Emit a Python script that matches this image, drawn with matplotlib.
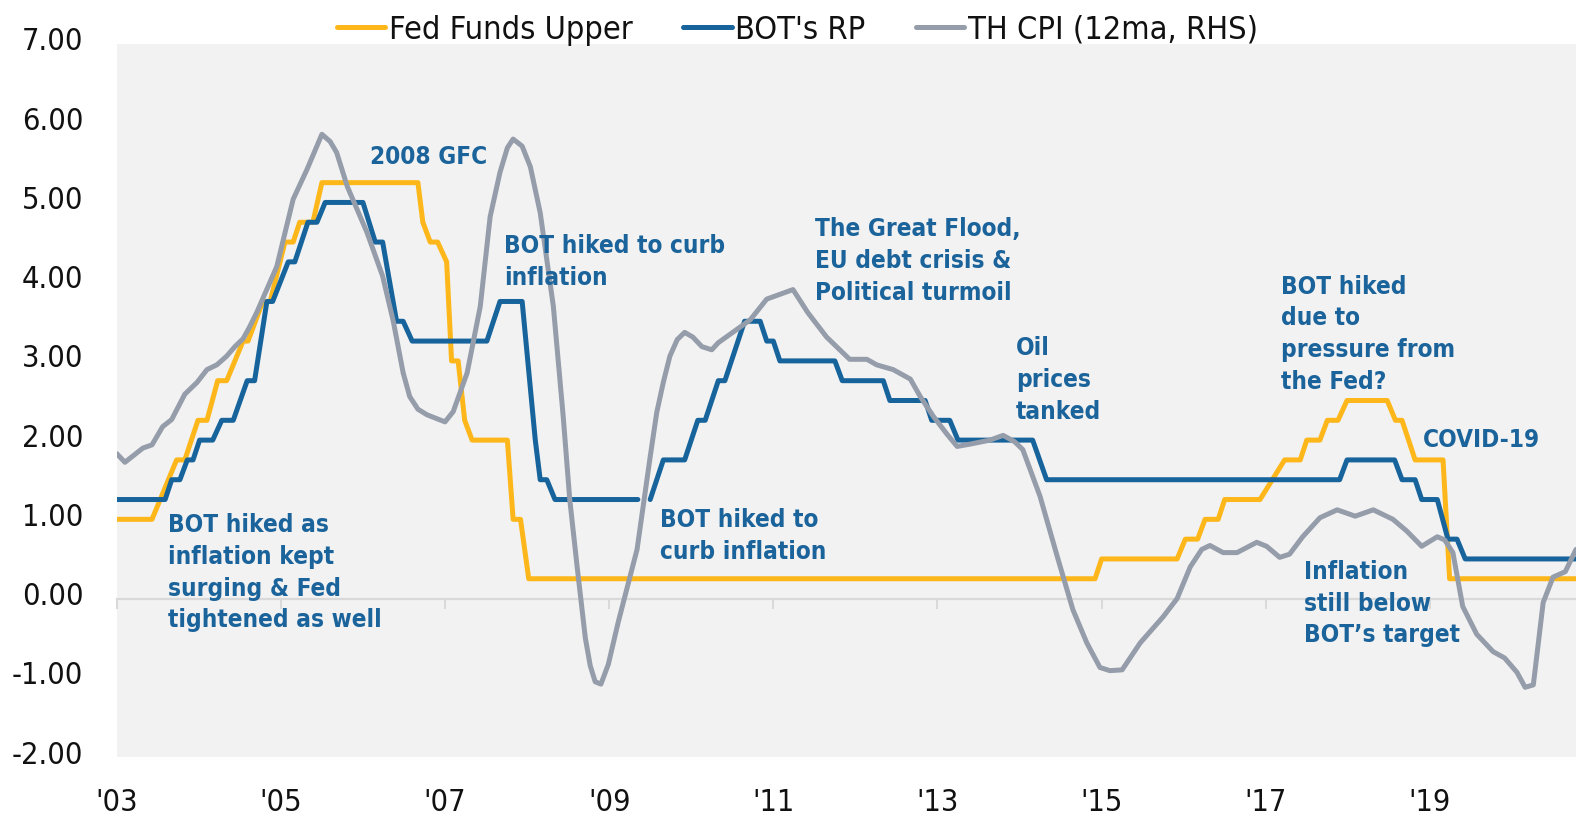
import os
import numpy as np
import matplotlib
matplotlib.use("Agg")
import matplotlib.pyplot as plt
from matplotlib import font_manager as fm
from matplotlib.transforms import ScaledTranslation

# ---------------- data (decimal years, values) ----------------
fed_x = [2003.00, 2003.43, 2003.73, 2003.83, 2003.99, 2004.10, 2004.23, 2004.34, 2004.54, 2004.60,
         2004.78, 2004.87, 2005.05, 2005.15, 2005.23, 2005.39, 2005.50, 2006.67, 2006.73, 2006.82,
         2006.91, 2007.02, 2007.08, 2007.16, 2007.24, 2007.33, 2007.76, 2007.83, 2007.92, 2008.02,
         2014.92, 2015.00, 2015.92, 2016.02, 2016.17, 2016.26, 2016.42, 2016.50, 2016.93, 2017.23,
         2017.42, 2017.50, 2017.66, 2017.75, 2017.88, 2017.99, 2018.48, 2018.58, 2018.66, 2018.82,
         2019.16, 2019.24, 2020.78]
fed_y = [1.0, 1.0, 1.75, 1.75, 2.25, 2.25, 2.75, 2.75, 3.25, 3.25,
         3.75, 3.75, 4.5, 4.5, 4.75, 4.75, 5.25, 5.25, 4.75, 4.5,
         4.5, 4.25, 3.0, 3.0, 2.25, 2.0, 2.0, 1.0, 1.0, 0.25,
         0.25, 0.5, 0.5, 0.75, 0.75, 1.0, 1.0, 1.25, 1.25, 1.75,
         1.75, 2.0, 2.0, 2.25, 2.25, 2.5, 2.5, 2.25, 2.25, 1.75,
         1.75, 0.25, 0.25]

bot_x = [2003.00, 2003.59, 2003.67, 2003.77, 2003.86, 2003.93, 2004.01, 2004.17, 2004.28, 2004.42,
         2004.59, 2004.68, 2004.83, 2004.90, 2005.09, 2005.17, 2005.33, 2005.44, 2005.54, 2006.00,
         2006.15, 2006.24, 2006.41, 2006.49, 2006.60, 2007.51, 2007.67, 2007.94, 2008.10, 2008.16,
         2008.24, 2008.34, 2009.35, 2009.42, 2009.50, 2009.66, 2009.92, 2010.08, 2010.17, 2010.33,
         2010.41, 2010.65, 2010.84, 2010.92, 2011.00, 2011.08, 2011.75, 2011.84, 2012.34, 2012.42,
         2012.85, 2012.93, 2013.15, 2013.25, 2014.16, 2014.33, 2017.90, 2017.99, 2018.57, 2018.66,
         2018.82, 2018.90, 2019.09, 2019.22, 2019.33, 2019.43, 2020.78]
bot_y = [1.25, 1.25, 1.5, 1.5, 1.75, 1.75, 2.0, 2.0, 2.25, 2.25,
         2.75, 2.75, 3.75, 3.75, 4.25, 4.25, 4.75, 4.75, 5.0, 5.0,
         4.5, 4.5, 3.5, 3.5, 3.25, 3.25, 3.75, 3.75, 2.0, 1.5,
         1.5, 1.25, 1.25, np.nan, 1.25, 1.75, 1.75, 2.25, 2.25, 2.75,
         2.75, 3.5, 3.5, 3.25, 3.25, 3.0, 3.0, 2.75, 2.75, 2.5,
         2.5, 2.25, 2.25, 2.0, 2.0, 1.5, 1.5, 1.75, 1.75, 1.5,
         1.5, 1.25, 1.25, 0.75, 0.75, 0.5, 0.5]

cpi_x = [2003.00, 2003.10, 2003.32, 2003.43, 2003.56, 2003.67, 2003.83, 2003.98, 2004.10, 2004.22,
         2004.34, 2004.44, 2004.54, 2004.62, 2004.71, 2004.95, 2005.15, 2005.32, 2005.50, 2005.60,
         2005.68, 2005.81, 2006.05, 2006.24, 2006.37, 2006.49, 2006.57, 2006.67, 2006.78, 2007.00,
         2007.10, 2007.27, 2007.43, 2007.55, 2007.67, 2007.76, 2007.83, 2007.94, 2008.04, 2008.16,
         2008.32, 2008.44, 2008.52, 2008.61, 2008.71, 2008.77, 2008.83, 2008.90, 2008.99, 2009.11,
         2009.34, 2009.50, 2009.58, 2009.66, 2009.74, 2009.83, 2009.92, 2010.02, 2010.13, 2010.25,
         2010.33, 2010.56, 2010.72, 2010.92, 2011.08, 2011.24, 2011.42, 2011.65, 2011.81, 2011.93,
         2012.14, 2012.26, 2012.46, 2012.67, 2012.79, 2012.95, 2013.12, 2013.24, 2013.40, 2013.64,
         2013.80, 2013.94, 2014.04, 2014.25, 2014.46, 2014.65, 2014.82, 2014.98, 2015.10, 2015.25,
         2015.47, 2015.75, 2015.92, 2016.08, 2016.22, 2016.32, 2016.48, 2016.65, 2016.89, 2017.01,
         2017.17, 2017.29, 2017.45, 2017.66, 2017.87, 2018.09, 2018.31, 2018.55, 2018.72, 2018.90,
         2019.09, 2019.18, 2019.28, 2019.40, 2019.57, 2019.77, 2019.91, 2020.06, 2020.16, 2020.26,
         2020.38, 2020.50, 2020.65, 2020.78]
cpi_y = [1.83, 1.72, 1.90, 1.94, 2.17, 2.26, 2.58, 2.73, 2.89, 2.95,
         3.06, 3.18, 3.28, 3.43, 3.62, 4.19, 5.04, 5.42, 5.86, 5.77,
         5.63, 5.20, 4.62, 4.07, 3.50, 2.85, 2.55, 2.39, 2.32, 2.23,
         2.36, 2.85, 3.69, 4.82, 5.38, 5.69, 5.80, 5.71, 5.45, 4.87,
         3.69, 2.30, 1.25, 0.40, -0.50, -0.85, -1.05, -1.08, -0.83, -0.30,
         0.62, 1.79, 2.35, 2.73, 3.06, 3.27, 3.36, 3.30, 3.18, 3.14,
         3.23, 3.40, 3.52, 3.78, 3.84, 3.90, 3.61, 3.30, 3.14, 3.02,
         3.02, 2.95, 2.89, 2.77, 2.55, 2.30, 2.07, 1.92, 1.95, 2.00,
         2.06, 1.98, 1.88, 1.29, 0.53, -0.14, -0.56, -0.87, -0.91, -0.90,
         -0.56, -0.23, 0.00, 0.40, 0.62, 0.67, 0.58, 0.58, 0.71, 0.66,
         0.52, 0.56, 0.78, 1.02, 1.12, 1.04, 1.12, 1.00, 0.85, 0.66,
         0.78, 0.74, 0.58, -0.10, -0.45, -0.67, -0.75, -0.93, -1.12, -1.09,
         -0.05, 0.27, 0.34, 0.62]

series_names = ["Fed Funds Upper", "BOT's RP", "TH CPI (12ma, RHS)"]
year_ticks = [2003, 2005, 2007, 2009, 2011, 2013, 2015, 2017, 2019]
year_labels = ["'03", "'05", "'07", "'09", "'11", "'13", "'15", "'17", "'19"]
y_ticks = [-2, -1, 0, 1, 2, 3, 4, 5, 6, 7]

annotations = [
    ("BOT hiked as\ninflation kept\nsurging & Fed\ntightened as well", 2003.63, 1.08),
    ("2008 GFC", 2006.09, 5.73),
    ("BOT hiked to curb\ninflation", 2007.72, 4.60),
    ("BOT hiked to\ncurb inflation", 2009.62, 1.14),
    ("The Great Flood,\nEU debt crisis &\nPolitical turmoil", 2011.51, 4.81),
    ("Oil\nprices\ntanked", 2013.96, 3.31),
    ("BOT hiked\ndue to\npressure from\nthe Fed?", 2017.18, 4.09),
    ("COVID-19", 2018.92, 2.15),
    ("Inflation\nstill below\nBOT\u2019s target", 2017.47, 0.49),
]

# ---------------- fonts ----------------
def find_file(name):
    for f in fm.findSystemFonts():
        if os.path.basename(f) == name:
            return f
    return None

cond = find_file("DejaVuSansCondensed.ttf")
condb = find_file("DejaVuSansCondensed-Bold.ttf")

def reg_font(size):
    if cond:
        return fm.FontProperties(fname=cond, size=size)
    return fm.FontProperties(family=["Liberation Sans Narrow", "DejaVu Sans"], size=size * 1.12)

def bold_font(size):
    if condb:
        return fm.FontProperties(fname=condb, size=size)
    return fm.FontProperties(family=["Liberation Sans Narrow", "DejaVu Sans"], weight="bold", size=size * 1.12)

# ---------------- colours ----------------
c_fed = "#FDB71A"
c_bot = "#17649C"
c_cpi = "#959CAA"
c_txt = "#1B639B"
bg = "#F2F2F2"

W, H = 1576, 818
fig = plt.figure(figsize=(W / 100, H / 100), dpi=100)
ax = fig.add_axes([116.7 / W, 1 - 757 / H, (W - 116.7) / W, (757 - 44) / H])
ax.set_facecolor(bg)

lw = 3.6
ax.plot(fed_x, fed_y, color=c_fed, lw=lw, label=series_names[0], zorder=3,
        solid_joinstyle="round", solid_capstyle="round")
ax.plot(bot_x, bot_y, color=c_bot, lw=lw, label=series_names[1], zorder=4,
        solid_joinstyle="round", solid_capstyle="round")
ax.plot(cpi_x, cpi_y, color=c_cpi, lw=lw, label=series_names[2], zorder=5,
        solid_joinstyle="round", solid_capstyle="round")

ax.set_xlim(2003.0, 2020.78)
ax.set_ylim(-2, 7)

for s in ["top", "right", "left"]:
    ax.spines[s].set_visible(False)
ax.spines["bottom"].set_position(("data", 0))
ax.spines["bottom"].set_color("#D9D9D9")
ax.spines["bottom"].set_linewidth(1.6)
ax.spines["bottom"].set_zorder(2)
ax.set_xticks(year_ticks)
ax.tick_params(axis="x", direction="out", length=7.5, width=1.4, color="#D9D9D9", labelbottom=False)

ax.set_yticks(y_ticks, labels=[f"{v:.2f}" for v in y_ticks])
ax.tick_params(axis="y", length=0, pad=24, labelcolor="#111111")
shift_up = ScaledTranslation(0, 5 / 100, fig.dpi_scale_trans)
for lab in ax.get_yticklabels():
    lab.set_fontproperties(reg_font(22))
    lab.set_transform(lab.get_transform() + shift_up)

sec = ax.secondary_xaxis("bottom")
sec.set_xticks(year_ticks, labels=year_labels)
sec.tick_params(length=0, pad=22, labelcolor="#111111")
sec.spines["bottom"].set_visible(False)
for lab in sec.get_xticklabels():
    lab.set_fontproperties(reg_font(22))

for txt, x, y in annotations:
    ax.text(x, y, txt, color=c_txt, fontproperties=bold_font(17.5), ha="left", va="top",
            linespacing=1.41, zorder=6)

leg = fig.legend(loc="center", bbox_to_anchor=(0.506, 0.963), ncol=3, frameon=False,
                 prop=reg_font(23.3), handlelength=1.5, handletextpad=0.12, columnspacing=1.55)
for line in leg.get_lines():
    line.set_linewidth(3.6)
    line.set_solid_capstyle("round")
for t in leg.get_texts():
    t.set_color("#111111")

fig.savefig("out.png", dpi=100, facecolor="white")
